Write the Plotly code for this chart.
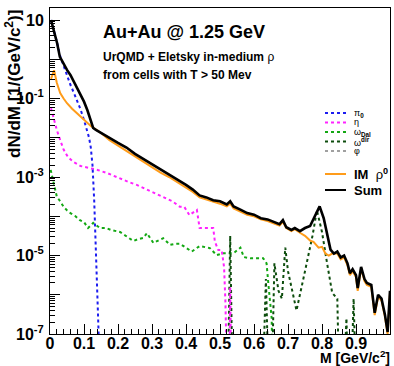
import plotly.graph_objects as go

# ---------------- data (y given as log10 of dN/dM) ----------------
pi0_M = [0.003, 0.01, 0.02, 0.03, 0.04, 0.05, 0.06, 0.07, 0.08, 0.09, 0.10, 0.11, 0.115,
         0.12, 0.125, 0.13, 0.135, 0.14, 0.145]
pi0_log = [1.0, 0.78, 0.45, 0.08, -0.18, -0.42, -0.65, -0.85, -1.05, -1.28, -1.55, -1.82, -2.0,
           -2.25, -2.7, -3.6, -4.8, -6.2, -7.5]

eta_M = [0.003, 0.01, 0.02, 0.03, 0.04, 0.05, 0.06, 0.07, 0.08, 0.09, 0.10, 0.118, 0.14, 0.168,
         0.19, 0.215, 0.235, 0.255, 0.28, 0.30, 0.32, 0.34, 0.36, 0.382, 0.395, 0.41, 0.432,
         0.44, 0.47, 0.48, 0.485, 0.495, 0.505, 0.512, 0.516, 0.52, 0.525, 0.53, 0.535]
eta_log = [-1.25, -1.5, -1.8, -2.06, -2.3, -2.45, -2.55, -2.62, -2.68, -2.72, -2.74, -2.77, -2.82, -2.9,
           -2.98, -3.08, -3.14, -3.2, -3.3, -3.38, -3.45, -3.52, -3.62, -3.76, -3.76, -3.97, -3.84,
           -4.3, -4.3, -4.3, -4.65, -4.86, -4.86, -5.3, -6.2, -10, -10, -5.8, -10]

omdal_M = [0.002, 0.01, 0.02, 0.03, 0.04, 0.05, 0.06, 0.075, 0.088, 0.10, 0.112, 0.127, 0.14, 0.147,
           0.165, 0.18, 0.206, 0.226, 0.245, 0.26, 0.275, 0.285, 0.304, 0.318, 0.333, 0.353, 0.37,
           0.382, 0.40, 0.417, 0.44, 0.47, 0.49, 0.51, 0.54, 0.56, 0.57, 0.59, 0.627, 0.637, 0.642,
           0.647, 0.652, 0.658]
omdal_log = [-2.82, -3.15, -3.5, -3.62, -3.76, -3.85, -3.92, -4.0, -4.1, -4.15, -4.3, -4.17, -4.25, -4.3,
             -4.3, -4.35, -4.4, -4.52, -4.63, -4.58, -4.55, -4.43, -4.68, -4.62, -4.56, -4.73, -4.7,
             -4.7, -4.8, -4.9, -4.76, -4.81, -4.99, -4.94, -4.94, -4.8, -5.04, -5.07, -5.07, -5.2, -5.7,
             -6.1, -6.6, -10]

omdir_M = [0.52, 0.53, 0.54, 0.62, 0.635, 0.648, 0.66, 0.672, 0.682, 0.692, 0.70, 0.725, 0.75,
           0.772, 0.785, 0.80, 0.815, 0.83, 0.845, 0.855, 0.872, 0.88, 0.893, 0.905]
omdir_log = [-10, -4.5, -10, -10, -5.6, -10, -5.2, -5.9, -6.1, -4.8, -5.4, -6.4, -5.4,
             -4.5, -3.85, -4.4, -5.2, -5.95, -6.1, -10, -6.6, -10, -6.1, -10]

phi_M = []
phi_log = []

rho_M = [0.003, 0.008, 0.012, 0.02, 0.03, 0.04, 0.05, 0.065, 0.08, 0.10, 0.12, 0.14, 0.15, 0.175,
         0.20, 0.225, 0.25, 0.275, 0.30, 0.325, 0.35, 0.375, 0.40, 0.42, 0.44, 0.46, 0.48, 0.50,
         0.52, 0.53, 0.54, 0.56, 0.58, 0.60, 0.62, 0.64, 0.66, 0.675, 0.685, 0.695, 0.71, 0.72,
         0.735, 0.75, 0.765, 0.775, 0.79, 0.80, 0.81, 0.82, 0.83, 0.845, 0.855, 0.865, 0.875,
         0.882, 0.89, 0.90, 0.905, 0.915, 0.925, 0.932, 0.945, 0.955, 0.965, 0.975, 0.985, 0.993, 1.0]
rho_log = [-0.5, -0.35, -0.28, -0.6, -0.86, -1.0, -1.12, -1.26, -1.38, -1.56, -1.70, -1.82, -1.88, -2.06,
           -2.2, -2.33, -2.49, -2.62, -2.75, -2.89, -3.0, -3.14, -3.27, -3.38, -3.52, -3.57, -3.64, -3.68,
           -3.75, -3.68, -3.80, -3.88, -3.96, -4.0, -4.08, -4.12, -4.18, -4.24, -4.14, -4.3, -4.38, -4.33,
           -4.42, -4.5, -4.62, -4.65, -4.8, -4.78, -4.95, -5.0, -4.95, -4.95, -5.1, -5.05, -5.25,
           -5.5, -5.4, -5.55, -5.9, -5.33, -5.65, -5.75, -5.8, -6.52, -6.05, -6.15, -6.55, -7.0, -5.95]

sum_M = [0.003, 0.009, 0.021, 0.029, 0.04, 0.05, 0.06, 0.07, 0.08, 0.09, 0.10, 0.11, 0.12, 0.127,
         0.135, 0.15, 0.175, 0.20, 0.225, 0.25, 0.275, 0.30, 0.325, 0.35, 0.375, 0.40, 0.42, 0.44,
         0.46, 0.48, 0.50, 0.52, 0.53, 0.54, 0.56, 0.58, 0.60, 0.62, 0.64, 0.66, 0.675, 0.685, 0.695,
         0.71, 0.72, 0.735, 0.75, 0.765, 0.78, 0.793, 0.805, 0.815, 0.825, 0.835, 0.845, 0.855,
         0.865, 0.875, 0.882, 0.89, 0.90, 0.905, 0.915, 0.925, 0.932, 0.945, 0.955, 0.965, 0.975,
         0.985, 0.993, 1.0]
sum_log = [1.0, 0.82, 0.41, 0.06, -0.12, -0.27, -0.40, -0.56, -0.72, -0.90, -1.08, -1.30, -1.55, -1.75,
           -1.80, -1.87, -2.0, -2.13, -2.25, -2.41, -2.54, -2.66, -2.81, -2.93, -3.07, -3.2, -3.32, -3.47,
           -3.52, -3.59, -3.62, -3.70, -3.62, -3.75, -3.83, -3.92, -3.96, -4.05, -4.08, -4.15, -4.2, -4.1, -4.28,
           -4.35, -4.3, -4.38, -4.3, -4.25, -4.0, -3.75, -4.05, -4.45, -4.85, -4.95, -4.9, -5.05,
           -5.0, -5.2, -5.45, -5.35, -5.5, -5.83, -5.29, -5.6, -5.7, -5.75, -6.46, -6.0, -6.1,
           -6.5, -6.95, -5.9]

x_tick_vals = [0, 0.1, 0.2, 0.3, 0.4, 0.5, 0.6, 0.7, 0.8, 0.9, 1.0]
x_tick_text = ["0", "0.1", "0.2", "0.3", "0.4", "0.5", "0.6", "0.7", "0.8", "0.9", "1"]
y_decades = [-7, -6, -5, -4, -3, -2, -1, 0, 1]
y_labels = {1: "10", -1: "10<sup>-1</sup>", -3: "10<sup>-3</sup>", -5: "10<sup>-5</sup>", -7: "10<sup>-7</sup>"}

C_PI0 = "#1c1cf0"
C_ETA = "#ff22ff"
C_DAL = "#13a813"
C_DIR = "#0d4d0d"
C_PHI = "#a0a0a0"
C_RHO = "#ff9c1a"
C_SUM = "#000000"

W, H = 394, 366
L, R, T, B = 50, 4, 8, 32
PW, PH = W - L - R, H - T - B


def pxx(px):
    return (px - L) / PW


def pxy(py):
    return (H - B - py) / PH


def vals(logs):
    return [10 ** v for v in logs]


fig = go.Figure()
series = [
    (omdal_M, omdal_log, C_DAL, "dot", 2),
    (omdir_M, omdir_log, C_DIR, "dot", 2),
    (phi_M, phi_log, C_PHI, "dot", 2),
    (eta_M, eta_log, C_ETA, "dot", 2),
    (pi0_M, pi0_log, C_PI0, "dot", 2),
    (rho_M, rho_log, C_RHO, "solid", 2),
    (sum_M, sum_log, C_SUM, "solid", 2.6),
]
for xs, ls, col, dash, w in series:
    fig.add_trace(go.Scatter(x=xs, y=vals(ls), mode="lines",
                             line=dict(color=col, dash=dash, width=w),
                             showlegend=False, hoverinfo="skip"))

FONT = "Liberation Sans"

minor_y = [m * 10 ** k for k in range(-7, 1) for m in range(2, 10)] + [20]
minor_x = [i / 50 for i in range(51) if i % 5 != 0]

fig.update_layout(
    width=W, height=H,
    margin=dict(l=L, r=R, t=T, b=B),
    paper_bgcolor="white", plot_bgcolor="white",
    font=dict(family=FONT, color="black"),
    xaxis=dict(range=[0, 1], showgrid=False, zeroline=False,
               showline=True, linecolor="black", linewidth=1, mirror=True,
               ticks="inside", ticklen=10, tickwidth=1, tickcolor="black",
               tickmode="array", tickvals=x_tick_vals, ticktext=x_tick_text,
               tickfont=dict(family=FONT, size=16, weight="bold"),
               ticklabelstandoff=-5,
               minor=dict(tickmode="array", tickvals=minor_x, ticks="inside", ticklen=5,
                          tickcolor="black", showgrid=False)),
    yaxis=dict(type="log", range=[-7, 1.306], showgrid=False, zeroline=False,
               showline=True, linecolor="black", linewidth=1, mirror=True,
               ticks="inside", ticklen=10, tickwidth=1, tickcolor="black",
               tickmode="array", tickvals=[10 ** k for k in y_decades],
               ticktext=[y_labels.get(k, "") for k in y_decades],
               tickfont=dict(family=FONT, size=16, weight="bold"),
               ticklabelstandoff=2,
               minor=dict(tickmode="array", tickvals=minor_y, ticks="inside", ticklen=5,
                          tickcolor="black", showgrid=False)),
)

ann = []
ann.append(dict(text="<b>dN/dM [1/(GeV/c<sup>2</sup>)]</b>", textangle=-90, x=pxx(13), y=pxy(8),
                xanchor="center", yanchor="top", font=dict(size=17)))
ann.append(dict(text="<b>M [GeV/c<sup>2</sup>]</b>", x=pxx(392), y=pxy(357), xanchor="right",
                yanchor="middle", font=dict(size=14)))
ann.append(dict(text="<b>Au+Au @ 1.25 GeV</b>", x=pxx(101), y=pxy(32), xanchor="left",
                yanchor="middle", font=dict(size=18)))
ann.append(dict(text="<b>UrQMD + Eletsky in-medium</b> ρ", x=pxx(101), y=pxy(57), xanchor="left",
                yanchor="middle", font=dict(size=12)))
ann.append(dict(text="<b>from cells with T > 50 Mev</b>", x=pxx(101), y=pxy(75), xanchor="left",
                yanchor="middle", font=dict(size=12)))

legend_rows = [
    ("π<sub><b>0</b></sub>", C_PI0, "dot", 113, 9),
    ("η", C_ETA, "dot", 122.5, 9),
    ("ω<sub><b>Dal</b></sub>", C_DAL, "dot", 132, 9),
    ("ω<sup><b>dir</b></sup>", C_DIR, "dot", 141.5, 9),
    ("φ", C_PHI, "dot", 151, 9),
    ("<b>IM</b>  ρ<sup><b>0</b></sup>", C_RHO, "solid", 174, 13),
    ("<b>Sum</b>", C_SUM, "solid", 190, 13),
]
shapes = []
for label, col, dash, py, fs in legend_rows:
    shapes.append(dict(type="line", xref="paper", yref="paper", x0=pxx(325), x1=pxx(346),
                       y0=pxy(py), y1=pxy(py), line=dict(color=col, dash=dash, width=2)))
    ann.append(dict(text=label, x=pxx(352), y=pxy(py), xanchor="left", yanchor="middle",
                    font=dict(size=fs)))

for a in ann:
    a.update(xref="paper", yref="paper", showarrow=False)
fig.update_layout(annotations=ann, shapes=shapes)

fig.write_html("out.html")
